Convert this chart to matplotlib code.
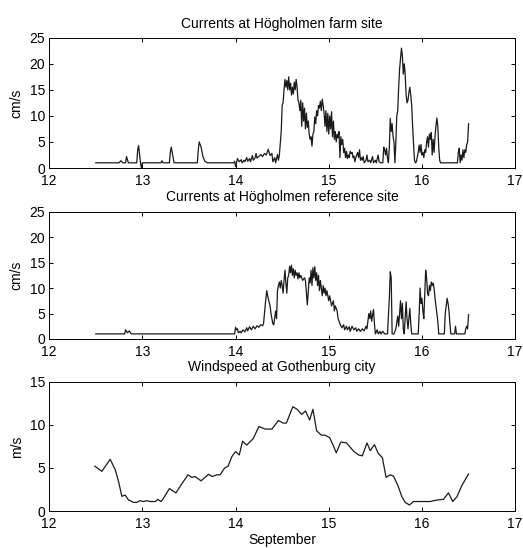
import matplotlib
matplotlib.use("Agg")
import matplotlib.pyplot as plt

plt.rcParams.update({
    "font.family": ["Liberation Sans", "DejaVu Sans"],
    "font.size": 10,
    "axes.linewidth": 0.7,
    "xtick.direction": "in",
    "ytick.direction": "in",
    "xtick.top": True,
    "ytick.right": True,
    "xtick.major.size": 3,
    "ytick.major.size": 3,
    "xtick.major.width": 0.7,
    "ytick.major.width": 0.7,
    "xtick.major.pad": 4,
    "ytick.major.pad": 3,
})

# Currents at the farm site (day of September, cm/s)
farm_t = [12.50, 12.75, 12.77, 12.79, 12.82, 12.83, 12.85, 12.94, 12.95, 12.96,
          12.98, 12.99, 13.00, 13.20, 13.21, 13.22, 13.29, 13.30, 13.31, 13.33,
          13.34, 13.59, 13.60, 13.61, 13.63, 13.65, 13.67, 13.70, 13.98, 13.99,
          14.00, 14.01, 14.02, 14.04, 14.06, 14.07, 14.09, 14.10, 14.12, 14.13,
          14.15, 14.16, 14.18, 14.19, 14.21, 14.22, 14.23, 14.25, 14.27, 14.29,
          14.31, 14.33, 14.35, 14.37, 14.39, 14.40, 14.42, 14.43, 14.45, 14.46,
          14.47, 14.49, 14.50, 14.51, 14.52, 14.53, 14.54, 14.55, 14.56, 14.57,
          14.58, 14.59, 14.60, 14.61, 14.62, 14.63, 14.64, 14.65, 14.66, 14.67,
          14.68, 14.69, 14.70, 14.71, 14.72, 14.73, 14.74, 14.75, 14.76, 14.77,
          14.78, 14.79, 14.80, 14.81, 14.82, 14.83, 14.84, 14.85, 14.86, 14.87,
          14.88, 14.89, 14.90, 14.91, 14.92, 14.93, 14.94, 14.95, 14.96, 14.97,
          14.98, 14.99, 15.00, 15.01, 15.02, 15.03, 15.04, 15.05, 15.06, 15.07,
          15.08, 15.09, 15.10, 15.11, 15.12, 15.13, 15.14, 15.15, 15.16, 15.17,
          15.18, 15.19, 15.20, 15.21, 15.22, 15.23, 15.24, 15.25, 15.26, 15.27,
          15.28, 15.29, 15.30, 15.31, 15.32, 15.33, 15.34, 15.35, 15.36, 15.37,
          15.38, 15.40, 15.41, 15.42, 15.44, 15.45, 15.47, 15.48, 15.50, 15.51,
          15.53, 15.54, 15.56, 15.58, 15.59, 15.60, 15.61, 15.62, 15.63, 15.64,
          15.65, 15.66, 15.67, 15.68, 15.69, 15.70, 15.71, 15.72, 15.73, 15.74,
          15.75, 15.76, 15.77, 15.78, 15.79, 15.80, 15.81, 15.82, 15.83, 15.84,
          15.85, 15.86, 15.87, 15.88, 15.89, 15.90, 15.91, 15.92, 15.93, 15.94,
          15.96, 15.97, 15.98, 15.99, 16.00, 16.01, 16.02, 16.03, 16.04, 16.05,
          16.06, 16.07, 16.08, 16.09, 16.10, 16.11, 16.12, 16.13, 16.14, 16.15,
          16.16, 16.17, 16.18, 16.19, 16.20, 16.21, 16.22, 16.38, 16.39, 16.40,
          16.41, 16.42, 16.43, 16.44, 16.45, 16.46, 16.47, 16.48, 16.49, 16.50]
farm_v = [1.0, 1.0, 1.4, 1.0, 1.0, 2.2, 1.0, 1.0, 3.5, 4.3,
          1.0, 0.0, 1.0, 1.0, 1.4, 1.0, 1.0, 3.0, 4.0, 2.0,
          1.0, 1.0, 3.5, 5.0, 4.0, 2.2, 1.3, 1.0, 1.0, 1.3,
          0.3, 1.0, 1.8, 1.2, 1.6, 1.0, 1.5, 1.2, 2.0, 1.3,
          1.8, 1.2, 2.4, 1.5, 2.0, 2.8, 1.9, 2.2, 2.6, 2.2,
          2.8, 2.5, 3.6, 2.4, 2.8, 1.2, 2.0, 1.0, 2.6, 1.5,
          2.5, 7.0, 12.0, 12.5, 15.0, 17.0, 15.5, 16.8, 15.0, 17.5,
          15.0, 16.3, 14.0, 15.5, 14.2, 16.5, 15.0, 17.0, 15.5, 13.0,
          12.5, 11.0, 13.0, 8.0, 12.5, 9.0, 11.5, 7.5, 10.5, 7.8,
          9.0, 6.5, 5.5, 6.0, 4.2, 6.5, 7.0, 9.8, 8.5, 11.0,
          10.0, 12.0, 11.5, 12.8, 11.0, 13.2, 12.0, 10.5, 8.0, 11.0,
          7.0, 10.5, 6.5, 10.0, 7.5, 10.8, 6.0, 9.0, 5.5, 7.0,
          5.0, 6.5, 5.8, 7.0, 2.0, 6.0, 4.5, 5.5, 3.0, 3.8,
          2.0, 3.2, 1.8, 2.5, 2.0, 3.2, 2.8, 3.0, 2.0, 2.3,
          1.2, 2.0, 2.5, 3.0, 2.0, 3.5, 1.5, 2.0, 1.5, 2.2,
          1.0, 1.5, 2.5, 1.2, 1.5, 1.0, 2.2, 1.0, 1.5, 1.0,
          2.5, 1.2, 1.0, 1.0, 4.0, 3.5, 2.5, 3.8, 2.0, 1.0,
          4.0, 9.5, 7.0, 8.5, 6.0, 5.0, 1.0, 5.0, 10.0, 11.0,
          15.5, 19.0, 21.0, 23.0, 21.5, 18.0, 20.0, 18.0, 14.0, 12.5,
          13.0, 14.5, 15.5, 14.0, 12.0, 8.0, 4.5, 1.5, 1.0, 1.2,
          3.0, 4.4, 3.0, 4.5, 2.5, 3.0, 2.0, 3.5, 3.0, 5.0,
          6.0, 4.0, 6.5, 5.5, 6.8, 2.5, 5.5, 3.0, 6.0, 8.0,
          9.6, 8.0, 4.0, 1.5, 1.0, 1.0, 1.0, 1.0, 3.0, 3.8,
          1.0, 2.5, 1.5, 3.5, 2.0, 3.5, 3.0, 4.5, 5.0, 8.5]

# Currents at the reference site (cm/s)
ref_t = [12.50, 12.81, 12.82, 12.84, 12.86, 12.88, 13.99, 14.00, 14.01, 14.02,
         14.03, 14.05, 14.06, 14.08, 14.10, 14.12, 14.13, 14.15, 14.17, 14.19,
         14.21, 14.23, 14.25, 14.27, 14.29, 14.30, 14.32, 14.335, 14.35, 14.37,
         14.38, 14.40, 14.41, 14.43, 14.44, 14.45, 14.46, 14.47, 14.48, 14.49,
         14.50, 14.51, 14.52, 14.53, 14.54, 14.55, 14.56, 14.57, 14.58, 14.59,
         14.60, 14.61, 14.62, 14.63, 14.64, 14.65, 14.66, 14.67, 14.68, 14.69,
         14.70, 14.72, 14.74, 14.75, 14.76, 14.77, 14.78, 14.79, 14.80, 14.81,
         14.82, 14.83, 14.84, 14.85, 14.86, 14.87, 14.88, 14.89, 14.90, 14.91,
         14.92, 14.93, 14.94, 14.95, 14.96, 14.97, 14.98, 15.00, 15.01, 15.03,
         15.05, 15.06, 15.07, 15.09, 15.10, 15.12, 15.14, 15.16, 15.17, 15.19,
         15.20, 15.22, 15.23, 15.25, 15.27, 15.29, 15.30, 15.32, 15.34, 15.36,
         15.38, 15.40, 15.41, 15.43, 15.44, 15.45, 15.46, 15.48, 15.49, 15.50,
         15.52, 15.53, 15.55, 15.56, 15.58, 15.60, 15.63, 15.65, 15.66, 15.67,
         15.68, 15.70, 15.72, 15.74, 15.75, 15.77, 15.78, 15.79, 15.80, 15.81,
         15.83, 15.84, 15.85, 15.87, 15.88, 15.89, 15.96, 15.97, 15.98, 15.99,
         16.00, 16.01, 16.02, 16.03, 16.04, 16.05, 16.06, 16.07, 16.08, 16.09,
         16.10, 16.11, 16.12, 16.13, 16.14, 16.15, 16.16, 16.17, 16.18, 16.24,
         16.25, 16.26, 16.27, 16.28, 16.29, 16.30, 16.31, 16.35, 16.36, 16.37,
         16.46, 16.47, 16.48, 16.49, 16.50]
ref_v = [1.0, 1.0, 1.8, 1.2, 1.6, 1.0, 1.0, 2.3, 1.8, 2.0,
         1.2, 1.5, 1.2, 1.8, 1.4, 2.2, 1.6, 2.4, 1.8, 2.5,
         2.0, 2.6, 2.3, 2.8, 2.6, 3.0, 7.0, 9.5, 8.0, 6.5,
         5.0, 3.0, 2.8, 5.5, 4.0, 9.5, 10.5, 11.2, 10.0, 11.5,
         10.5, 9.0, 11.5, 13.5, 11.0, 9.0, 12.0, 12.5, 14.3, 13.0,
         14.5, 12.5, 13.8, 12.0, 13.5, 12.5, 13.0, 11.8, 13.0, 12.0,
         12.5, 11.5, 12.0, 11.5, 9.0, 6.7, 9.5, 12.0, 11.0, 13.5,
         10.5, 14.0, 12.0, 14.2, 11.5, 13.0, 10.5, 12.5, 9.5, 11.5,
         10.0, 8.5, 10.5, 9.0, 10.0, 8.5, 9.5, 7.5, 8.5, 6.5,
         7.5, 5.5, 6.5, 5.5, 4.0, 3.0, 2.2, 2.8, 1.8, 2.5,
         1.8, 2.4, 1.5, 2.5, 1.8, 2.2, 1.5, 2.0, 1.5, 2.0,
         1.6, 2.5, 2.0, 5.0, 4.0, 5.5, 3.5, 5.8, 3.0, 1.0,
         1.8, 1.0, 1.5, 1.0, 1.5, 1.0, 1.0, 8.0, 13.2, 12.0,
         1.0, 1.0, 2.0, 4.5, 2.5, 7.5, 4.0, 7.0, 2.0, 1.0,
         7.3, 4.0, 2.0, 6.0, 3.0, 1.0, 1.0, 5.0, 10.0, 7.0,
         8.0, 5.5, 4.0, 9.0, 13.5, 12.0, 9.0, 8.5, 10.5, 9.5,
         11.2, 10.5, 11.0, 10.0, 8.0, 6.5, 5.0, 3.5, 1.0, 1.0,
         5.0, 6.5, 8.0, 7.0, 5.5, 3.0, 1.0, 1.0, 2.5, 1.0,
         1.0, 2.0, 2.5, 2.0, 4.8]

# Windspeed at Gothenburg city (m/s)
wind_t = [12.49, 12.565, 12.655, 12.71, 12.745, 12.78, 12.815, 12.85, 12.905, 12.94,
          12.975, 13.01, 13.05, 13.08, 13.14, 13.165, 13.20, 13.225, 13.29, 13.36,
          13.42, 13.49, 13.53, 13.565, 13.63, 13.71, 13.75, 13.80, 13.835, 13.88,
          13.92, 13.96, 14.00, 14.04, 14.075, 14.12, 14.19, 14.25, 14.32, 14.39,
          14.46, 14.51, 14.545, 14.615, 14.66, 14.71, 14.75, 14.795, 14.83, 14.87,
          14.92, 14.96, 15.01, 15.05, 15.08, 15.13, 15.19, 15.23, 15.27, 15.32,
          15.36, 15.41, 15.445, 15.49, 15.53, 15.575, 15.615, 15.66, 15.695, 15.74,
          15.785, 15.82, 15.865, 15.91, 15.96, 16.02, 16.09, 16.125, 16.18, 16.23,
          16.285, 16.33, 16.375, 16.43, 16.50]
wind_v = [5.2, 4.6, 6.0, 4.75, 3.4, 1.7, 1.85, 1.3, 1.0, 1.0,
          1.2, 1.1, 1.2, 1.1, 1.1, 1.35, 1.1, 1.45, 2.6, 2.1,
          3.1, 4.2, 3.9, 4.0, 3.5, 4.25, 4.0, 4.2, 4.2, 4.95,
          5.2, 6.3, 6.9, 6.5, 8.1, 7.65, 8.4, 9.8, 9.5, 9.5,
          10.5, 10.2, 10.2, 12.1, 11.8, 11.2, 11.6, 10.55, 11.8, 9.3,
          8.8, 8.8, 8.5, 7.55, 6.75, 8.0, 7.9, 7.4, 6.9, 6.5,
          6.4, 7.9, 7.0, 7.7, 6.7, 6.2, 3.9, 4.2, 4.05, 3.0,
          1.65, 1.0, 0.7, 1.1, 1.1, 1.1, 1.1, 1.2, 1.3, 1.35,
          2.1, 1.1, 1.65, 3.0, 4.3]

day_ticks = [12, 13, 14, 15, 16, 17]

fig = plt.figure(figsize=(5.23, 5.48), dpi=100)
left, width = 0.094, 0.891
ax1 = fig.add_axes([left, 0.6934, width, 0.2378])
ax2 = fig.add_axes([left, 0.3814, width, 0.2323])
ax3 = fig.add_axes([left, 0.0675, width, 0.2360])

line_kw = dict(color="#1a1a1a", linewidth=0.9)

ax1.plot(farm_t, farm_v, **line_kw)
ax1.set_ylim(0, 25)
ax1.set_yticks([0, 5, 10, 15, 20, 25])
ax1.set_ylabel("cm/s")
ax1.set_title("Currents at Högholmen farm site", fontsize=10, pad=7)

ax2.plot(ref_t, ref_v, **line_kw)
ax2.set_ylim(0, 25)
ax2.set_yticks([0, 5, 10, 15, 20, 25])
ax2.set_ylabel("cm/s")
ax2.set_title("Currents at Högholmen reference site", fontsize=10, pad=8)

ax3.plot(wind_t, wind_v, **line_kw)
ax3.set_ylim(0, 15)
ax3.set_yticks([0, 5, 10, 15])
ax3.set_ylabel("m/s")
ax3.set_xlabel("September", labelpad=2)
ax3.set_title("Windspeed at Gothenburg city", fontsize=10, pad=8)

for ax in (ax1, ax2, ax3):
    ax.set_xlim(12, 17)
    ax.set_xticks(day_ticks)
    ax.tick_params(labelsize=10)

fig.savefig("out.png", dpi=100)
